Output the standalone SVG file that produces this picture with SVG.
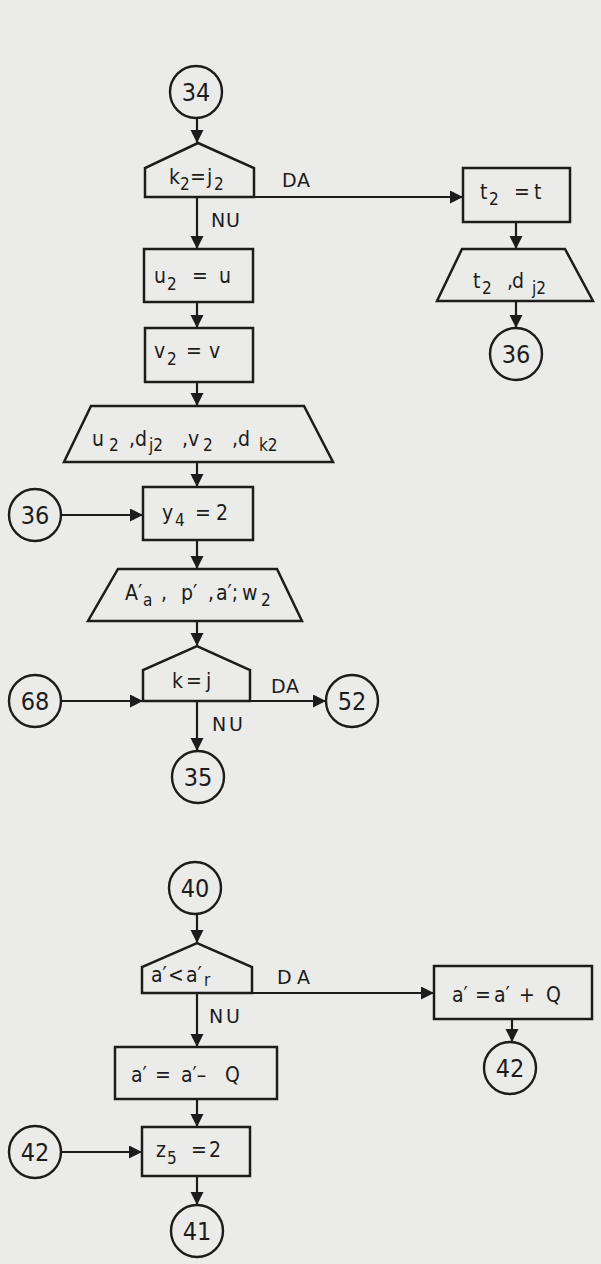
<svg xmlns="http://www.w3.org/2000/svg" width="601" height="1264" viewBox="0 0 601 1264">
<defs>
<marker id="ah" markerUnits="userSpaceOnUse" markerWidth="14" markerHeight="14" refX="13" refY="6.5" orient="auto">
<path d="M0,0 L13,6.5 L0,13 z" fill="#1c1c1c"/>
</marker>
<style>
.s{fill:none;stroke:#1c1c1c;stroke-width:2.5;stroke-linejoin:miter}
.c{fill:none;stroke:#1c1c1c;stroke-width:2.4}
.l{fill:none;stroke:#1c1c1c;stroke-width:2.2}
.t{font-family:"DejaVu Sans Condensed","DejaVu Sans",sans-serif;font-size:21px;fill:#1c1c1c}
.n{font-family:"DejaVu Sans Condensed","DejaVu Sans",sans-serif;font-size:25px;fill:#1c1c1c;text-anchor:middle}
.lb{font-family:"DejaVu Sans","DejaVu Sans Condensed",sans-serif;font-size:19px;fill:#1c1c1c}
.sb{font-size:17px}
</style>
</defs>
<rect width="601" height="1264" fill="#ebebe9"/>
<g id="connectors">
<line class="l" x1="197" y1="118" x2="197" y2="143" marker-end="url(#ah)"/>
<line class="l" x1="197" y1="197" x2="197" y2="249" marker-end="url(#ah)"/>
<line class="l" x1="254" y1="197" x2="463" y2="197" marker-end="url(#ah)"/>
<line class="l" x1="197" y1="302" x2="197" y2="328" marker-end="url(#ah)"/>
<line class="l" x1="197" y1="382" x2="197" y2="406" marker-end="url(#ah)"/>
<line class="l" x1="197" y1="462" x2="197" y2="487" marker-end="url(#ah)"/>
<line class="l" x1="61" y1="515" x2="143" y2="515" marker-end="url(#ah)"/>
<line class="l" x1="197" y1="540" x2="197" y2="569" marker-end="url(#ah)"/>
<line class="l" x1="197" y1="621" x2="197" y2="646" marker-end="url(#ah)"/>
<line class="l" x1="61" y1="701" x2="143" y2="701" marker-end="url(#ah)"/>
<line class="l" x1="250" y1="701" x2="326" y2="701" marker-end="url(#ah)"/>
<line class="l" x1="197" y1="701" x2="197" y2="751" marker-end="url(#ah)"/>
<line class="l" x1="516" y1="222" x2="516" y2="249" marker-end="url(#ah)"/>
<line class="l" x1="516" y1="301" x2="516" y2="328" marker-end="url(#ah)"/>
<line class="l" x1="197" y1="915" x2="197" y2="943" marker-end="url(#ah)"/>
<line class="l" x1="252" y1="993" x2="434" y2="993" marker-end="url(#ah)"/>
<line class="l" x1="197" y1="993" x2="197" y2="1047" marker-end="url(#ah)"/>
<line class="l" x1="197" y1="1099" x2="197" y2="1127" marker-end="url(#ah)"/>
<line class="l" x1="61" y1="1152" x2="142" y2="1152" marker-end="url(#ah)"/>
<line class="l" x1="197" y1="1176" x2="197" y2="1205" marker-end="url(#ah)"/>
<line class="l" x1="512" y1="1019" x2="512" y2="1042" marker-end="url(#ah)"/>
<text class="lb" x="282 297" y="187">DA</text>
<text class="lb" x="211 226" y="227">NU</text>
<text class="lb" x="271 286" y="693">DA</text>
<text class="lb" x="212 229" y="731">NU</text>
<text class="lb" x="277 297" y="984">DA</text>
<text class="lb" x="209 226" y="1023">NU</text>
</g>
<g id="c34"><circle class="c" cx="196" cy="92" r="26"/><text class="n" x="196" y="101">34</text></g>
<g id="d1"><path class="s" d="M145,197 V168 L198,143 L254,168 V197 Z"/>
<text class="t" x="169" y="184">k<tspan class="sb" x="180" dy="6">2</tspan><tspan x="190" dy="-6">=</tspan><tspan x="207">j</tspan><tspan class="sb" x="214" dy="6">2</tspan></text></g>
<g id="b_u2"><rect class="s" x="144" y="249" width="109" height="53"/>
<text class="t" x="154" y="283">u<tspan class="sb" x="167" dy="7">2</tspan><tspan x="192" dy="-7">=</tspan><tspan x="219">u</tspan></text></g>
<g id="b_v2"><rect class="s" x="145" y="328" width="108" height="54"/>
<text class="t" x="154" y="358">v<tspan class="sb" x="167" dy="7">2</tspan><tspan x="186" dy="-7">=</tspan><tspan x="209">v</tspan></text></g>
<g id="p1"><path class="s" d="M91,406 H304 L333,462 H64 Z"/>
<text class="t" x="92" y="446">u<tspan class="sb" x="109" dy="5">2</tspan><tspan x="129" dy="-5">,d</tspan><tspan class="sb" x="149" dy="5">j2</tspan><tspan x="182" dy="-5">,v</tspan><tspan class="sb" x="203" dy="5">2</tspan><tspan x="232" dy="-5">,d</tspan><tspan class="sb" x="259" dy="5">k2</tspan></text></g>
<g id="c36a"><circle class="c" cx="35" cy="515" r="26"/><text class="n" x="35" y="524">36</text></g>
<g id="b_y4"><rect class="s" x="143" y="487" width="110" height="53"/>
<text class="t" x="162" y="520">y<tspan class="sb" x="175" dy="6">4</tspan><tspan x="195" dy="-6">=</tspan><tspan x="216">2</tspan></text></g>
<g id="p2"><path class="s" d="M118,569 H277 L302,621 H88 Z"/>
<text class="t" x="125" y="600">A′<tspan class="sb" x="143" dy="6">a</tspan><tspan x="161" dy="-6">,</tspan><tspan x="181">p′</tspan><tspan x="208">,</tspan><tspan x="216">a′;</tspan><tspan x="242">w</tspan><tspan class="sb" x="261" dy="6">2</tspan></text></g>
<g id="d2"><path class="s" d="M143,701 V670 L197,646 L250,670 V701 Z"/>
<text class="t" x="172" y="688">k<tspan x="186">=</tspan><tspan x="206">j</tspan></text></g>
<g id="c68"><circle class="c" cx="35" cy="701" r="26"/><text class="n" x="35" y="710">68</text></g>
<g id="c52"><circle class="c" cx="352" cy="701" r="26"/><text class="n" x="352" y="710">52</text></g>
<g id="c35"><circle class="c" cx="198" cy="777" r="26"/><text class="n" x="198" y="786">35</text></g>
<g id="b_t2"><rect class="s" x="463" y="168" width="107" height="54"/>
<text class="t" x="480" y="199">t<tspan class="sb" x="489" dy="6">2</tspan><tspan x="514" dy="-6">=</tspan><tspan x="534">t</tspan></text></g>
<g id="p3"><path class="s" d="M462,249 H565 L593,301 H437 Z"/>
<text class="t" x="473" y="288">t<tspan class="sb" x="482" dy="6">2</tspan><tspan x="507" dy="-6">,</tspan><tspan x="512">d</tspan><tspan class="sb" x="532" dy="6">j2</tspan></text></g>
<g id="c36b"><circle class="c" cx="516" cy="354" r="26"/><text class="n" x="516" y="363">36</text></g>
<g id="c40"><circle class="c" cx="195" cy="888" r="26"/><text class="n" x="195" y="897">40</text></g>
<g id="d3"><path class="s" d="M142,993 V967 L197,943 L252,967 V993 Z"/>
<text class="t" x="151" y="982">a′<tspan x="168">&lt;</tspan><tspan x="186">a′</tspan><tspan class="sb" x="204" dy="4">r</tspan></text></g>
<g id="b_a1"><rect class="s" x="115" y="1047" width="162" height="52"/>
<text class="t" x="131" y="1082">a′<tspan x="155">=</tspan><tspan x="181">a′–</tspan><tspan x="225">Q</tspan></text></g>
<g id="b_z5"><rect class="s" x="142" y="1127" width="108" height="49"/>
<text class="t" x="156" y="1157">z<tspan class="sb" x="167" dy="7">5</tspan><tspan x="191" dy="-7">=</tspan><tspan x="209">2</tspan></text></g>
<g id="c42a"><circle class="c" cx="35" cy="1152" r="26"/><text class="n" x="35" y="1161">42</text></g>
<g id="c41"><circle class="c" cx="197" cy="1231" r="26"/><text class="n" x="197" y="1240">41</text></g>
<g id="b_a2"><rect class="s" x="434" y="966" width="158" height="53"/>
<text class="t" x="452" y="1002">a′<tspan x="475">=</tspan><tspan x="494">a′</tspan><tspan x="519">+</tspan><tspan x="546">Q</tspan></text></g>
<g id="c42b"><circle class="c" cx="510" cy="1068" r="26"/><text class="n" x="510" y="1077">42</text></g>
</svg>
